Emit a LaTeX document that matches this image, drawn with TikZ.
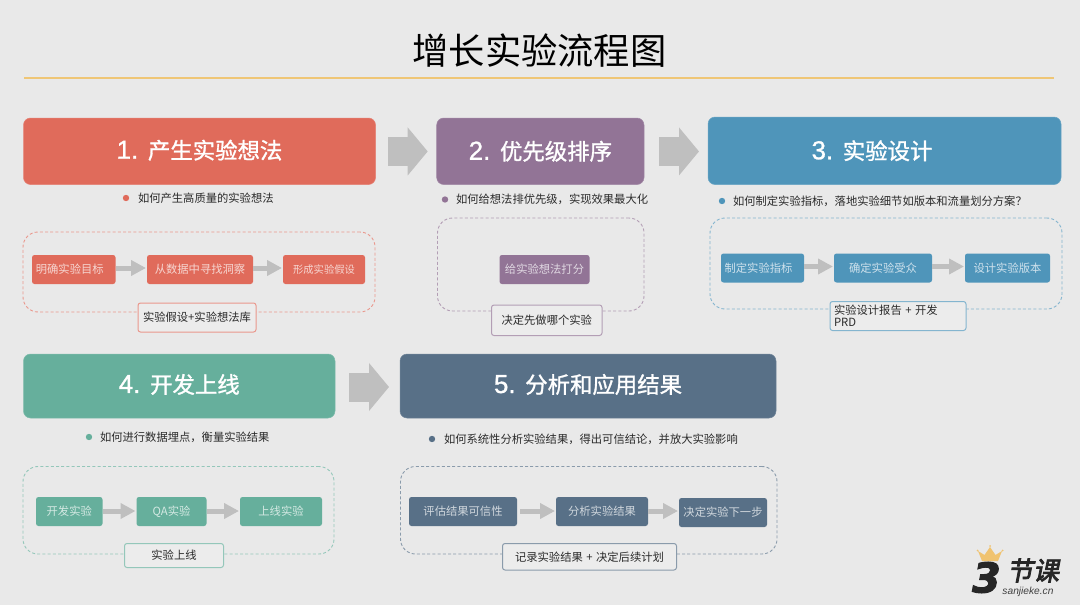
\documentclass[tikz,border=0pt]{standalone}
\usepackage{fontspec}
\setmainfont{Noto Sans CJK SC}
\newfontfamily\headfont[FakeBold=1.3]{Noto Sans CJK SC}
\newfontfamily\headlat[FakeBold=1]{Liberation Sans}
\newfontfamily\logofont[FakeSlant=0.2,FakeBold=3]{Noto Sans CJK SC}
\newfontfamily\logonum[FakeBold=2.5]{DejaVu Sans}
\newfontfamily\logolat{Liberation Sans}
\usetikzlibrary{arrows.meta}
\definecolor{bgc}{HTML}{E9E9E9}
\definecolor{labelfill}{HTML}{ECECEC}
\definecolor{ink}{HTML}{2B2B2B}
\definecolor{gold}{HTML}{EFC676}
\definecolor{flowgray}{HTML}{BFBFBF}
\definecolor{cred}{HTML}{E06B5B}
\definecolor{cpurple}{HTML}{927496}
\definecolor{cblue}{HTML}{4F95BA}
\definecolor{cgreen}{HTML}{66AF9C}
\definecolor{cslate}{HTML}{587087}
\tikzset{
  base/.style={inner sep=0pt,outer sep=0pt,align=center},
  phase/.style={base,fill=#1,draw=white!15!#1,line width=.5pt,rounded corners=7pt,text=white,font=\headfont\fontsize{22.4}{27}\selectfont},
  task/.style={base,fill=#1,rounded corners=2.5pt,text=white!72!#1,font=\fontsize{11.3}{13}\selectfont},
  group/.style={base,draw=white!30!#1,dashed,dash pattern=on 3pt off 2.2pt,line width=.9pt,rounded corners=15pt},
  outcome/.style={base,fill=labelfill,draw=white!30!#1,line width=1pt,rounded corners=2.5pt,text=ink,font=\fontsize{11.3}{13}\selectfont},
  dot/.style={circle,fill=#1,inner sep=0pt,outer sep=0pt,minimum size=6.4pt},
  question/.style={base,anchor=west,text=ink,font=\fontsize{11.3}{13}\selectfont},
  flow/.style={draw=flowgray,line width=5pt,-{Triangle[length=15pt,width=15pt]},shorten >=1pt},
  bigflow/.style={draw=flowgray,line width=29pt,-{Triangle[length=20pt,width=47pt]}}
}
\newcommand{\pbox}[6]{\node[#1,minimum width={(#4-#2)*1pt},minimum height={(#5-#3)*1pt}] (#6) at ({(#2+#4)/2},{(#3+#5)/2})}
\newcommand{\headtext}[3]{\raisebox{#1}{{\headlat\fontsize{26}{27}\selectfont #2. }#3}}
\newcommand{\gap}{\hspace{3.5pt}}
\begin{document}
\begin{tikzpicture}[x=1pt,y=-1pt]
\fill[bgc] (0,0) rectangle (1080,605);
\useasboundingbox (0,0) rectangle (1080,605);

% heading
\node[base,text=black,font=\fontsize{36.3}{40}\selectfont] (heading) at (539.5,50.5) {增长实验流程图};
\coordinate (ruleL) at (24,78);
\coordinate (ruleR) at (1054,78);
\draw[gold,line width=1.2pt] (ruleL) -- (ruleR);

% phase 1
\pbox{phase=cred}{23.5}{118}{375.5}{184.5}{p1} {\headtext{4pt}{1}{产生实验想法}};
\node[dot=cred] (d1) at (126,198) {};
\node[question] (q1) at (138,198) {如何产生高质量的实验想法};
\pbox{group=cred}{23}{232}{375}{312}{g1} {};
\pbox{task=cred}{32}{255}{115.5}{284}{t11} {\hspace*{-8pt}明确实验目标};
\pbox{task=cred}{147}{255}{253}{284}{t12} {从数据中寻找洞察};
\pbox{task=cred}{283}{255}{365}{284}{t13} {\fontsize{10.3}{13}\selectfont 形成实验假设};
\pbox{outcome=cred}{138}{303}{256}{332}{o1} {实验假设+实验想法库};
\draw[flow] ([yshift=1.5pt]t11.east) -- ([yshift=1.5pt]t12.west);
\draw[flow] ([yshift=1.5pt]t12.east) -- ([yshift=1.5pt]t13.west);

% phase 2
\pbox{phase=cpurple}{436.7}{118}{644}{184.5}{p2} {\headtext{0pt}{2}{优先级排序}};
\node[dot=cpurple] (d2) at (445,199.5) {};
\node[question] (q2) at (456,199.5) {如何给想法排优先级，实现效果最大化};
\pbox{group=cpurple}{437.5}{218}{644}{311}{g2} {};
\pbox{task=cpurple}{499.5}{255}{589.5}{284}{t21} {给实验想法打分};
\pbox{outcome=cpurple}{491.5}{305}{602}{335.5}{o2} {决定先做哪个实验};

% phase 3
\pbox{phase=cblue}{708}{117}{1061}{184.5}{p3} {\hspace*{-25pt}\headtext{1pt}{3}{实验设计}};
\node[dot=cblue] (d3) at (722,201) {};
\node[question] (q3) at (733,201) {如何制定实验指标，落地实验细节如版本和流量划分方案？};
\pbox{group=cblue}{710}{218}{1062}{309}{g3} {};
\pbox{task=cblue}{721}{253.5}{804}{282.5}{t31} {\hspace*{-8pt}制定实验指标};
\pbox{task=cblue}{834}{253.5}{932}{282.5}{t32} {确定实验受众};
\pbox{task=cblue}{965}{253.5}{1050}{282.5}{t33} {设计实验版本};
\pbox{outcome=cblue}{830}{301.5}{966}{330.5}{o3} {\begin{minipage}{128pt}\raggedright 实验设计报告\gap+\gap 开发\\[-1pt]PRD\end{minipage}};
\draw[flow] ([yshift=1.5pt]t31.east) -- ([yshift=1.5pt]t32.west);
\draw[flow] ([yshift=1.5pt]t32.east) -- ([yshift=1.5pt]t33.west);

% phase 4
\pbox{phase=cgreen}{23.5}{354}{335}{418}{p4} {\headtext{5pt}{4}{开发上线}};
\node[dot=cgreen] (d4) at (89,437) {};
\node[question] (q4) at (100,437) {如何进行数据埋点，衡量实验结果};
\pbox{group=cgreen}{23}{466.5}{334}{554}{g4} {};
\pbox{task=cgreen}{36}{497}{102.5}{526}{t41} {开发实验};
\pbox{task=cgreen}{136.5}{497}{206.5}{526}{t42} {QA实验};
\pbox{task=cgreen}{240}{497}{322}{526}{t43} {上线实验};
\pbox{outcome=cgreen}{124.5}{543.5}{223.5}{567.5}{o4} {实验上线};
\draw[flow] ([yshift=.5pt]t41.east) -- ([yshift=.5pt]t42.west);
\draw[flow] ([yshift=.5pt]t42.east) -- ([yshift=.5pt]t43.west);

% phase 5
\pbox{phase=cslate}{400}{354}{776}{418}{p5} {\headtext{5pt}{5}{分析和应用结果}};
\node[dot=cslate] (d5) at (432,439) {};
\node[question] (q5) at (444,439) {如何系统性分析实验结果，得出可信结论，并放大实验影响};
\pbox{group=cslate}{400.5}{466.5}{777}{554}{g5} {};
\pbox{task=cslate}{409}{497}{517}{526}{t51} {评估结果可信性};
\pbox{task=cslate}{556}{497}{648}{526}{t52} {分析实验结果};
\pbox{task=cslate}{679}{498}{767}{527}{t53} {决定实验下一步};
\pbox{outcome=cslate}{502.5}{543.5}{676.5}{570}{o5} {记录实验结果\gap+\gap 决定后续计划};
\draw[flow,shorten <=3pt] ([yshift=.5pt]t51.east) -- ([yshift=.5pt]t51.east -| t52.west);
\draw[flow] ([yshift=.5pt]t52.east) -- ([yshift=.5pt]t52.east -| t53.west);

% big arrows between phases
\draw[bigflow,shorten <=12.5pt,shorten >=9pt] ([yshift=-.2pt]p1.east) -- ([yshift=-.2pt]p1.east -| p2.west);
\draw[bigflow,shorten <=15pt,shorten >=9pt] ([yshift=-.2pt]p2.east) -- ([yshift=-.2pt]p2.east -| p3.west);
\draw[bigflow,shorten <=14pt,shorten >=11pt] ([yshift=-1pt]p4.east) -- ([yshift=-1pt]p4.east -| p5.west);

% logo
\fill[gold!95!orange] (978,551) -- (984.5,555) -- (990,547) -- (995.5,555) -- (1002,551) -- (998,561) -- (982,561) -- cycle;
\fill[gold!95!orange] (977.5,550.5) circle (1pt) (990,546) circle (1pt) (1002.5,550.5) circle (1pt);
\node[base,text=black!85,font=\logonum\bfseries\itshape\fontsize{41}{41}\selectfont] (logo3) at (986.5,577.5) {3};
\node[base,text=black!85,font=\logofont\fontsize{26}{26}\selectfont] (logoCN) at (1033,570.5) {节课};
\node[base,text=black!75,font=\logolat\itshape\fontsize{10.2}{11}\selectfont] (logoURL) at (1028,591.5) {sanjieke.cn};
\end{tikzpicture}
\end{document}
